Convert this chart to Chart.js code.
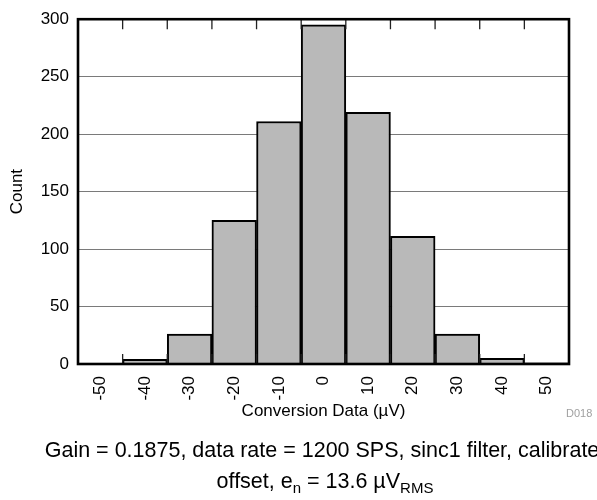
<!DOCTYPE html>
<html>
<head>
<meta charset="utf-8">
<script src="https://cdn.jsdelivr.net/npm/chart.js@4.4.1/dist/chart.umd.min.js"></script>
<style>
  html, body { margin: 0; padding: 0; background: #ffffff; }
  canvas { display: block; }
</style>
</head>
<body>
<canvas id="c" width="597" height="500"></canvas>
<script>
// ---- data ----
const categories = ['-50', '-40', '-30', '-20', '-10', '0', '10', '20', '30', '40', '50'];
const counts = [0, 4, 26, 125, 211, 295, 219, 111, 26, 5, 1];
const yMin = 0;
const yMax = 300;
const yStep = 50;
const xTitle = 'Conversion Data (\u00B5V)';
const yTitle = 'Count';
const figId = 'D018';
const captionLine1 = [{ t: 'Gain = 0.1875, data rate = 1200 SPS, sinc1 filter, calibrated' }];
const captionLine2 = [
  { t: 'offset, e' }, { t: 'n', sub: true }, { t: ' = 13.6 \u00B5V' }, { t: 'RMS', sub: true }
];

const FONT = '"Liberation Sans", Arial, Helvetica, sans-serif';

const decorPlugin = {
  id: 'decor',
  afterDatasetsDraw(chart) {
    const { ctx, chartArea: a, scales } = chart;
    const xs = scales.x;
    ctx.save();
    // inward tick marks at bin boundaries
    ctx.strokeStyle = '#222';
    ctx.lineWidth = 1.3;
    for (let i = 0; i < categories.length - 1; i++) {
      const px = (xs.getPixelForValue(i) + xs.getPixelForValue(i + 1)) / 2;
      ctx.beginPath();
      ctx.moveTo(px, a.top);
      ctx.lineTo(px, a.top + 10);
      ctx.moveTo(px, a.bottom);
      ctx.lineTo(px, a.bottom - 10);
      ctx.stroke();
    }
    // frame
    ctx.strokeStyle = '#000';
    ctx.lineWidth = 2.6;
    ctx.strokeRect(a.left, a.top, a.right - a.left, a.bottom - a.top);
    ctx.restore();
  },
  afterDraw(chart) {
    const { ctx } = chart;
    ctx.save();
    // figure id
    ctx.fillStyle = '#a0a0a0';
    ctx.font = '11px ' + FONT;
    ctx.textAlign = 'left';
    ctx.textBaseline = 'middle';
    ctx.fillText(figId, 566, 414);
    // captions
    const drawLine = (parts, cx, baseY) => {
      const big = '21.5px ' + FONT, small = '15px ' + FONT;
      let w = 0;
      parts.forEach(p => { ctx.font = p.sub ? small : big; w += ctx.measureText(p.t).width; });
      let x = cx - w / 2;
      ctx.fillStyle = '#000';
      ctx.textAlign = 'left';
      ctx.textBaseline = 'alphabetic';
      parts.forEach(p => {
        ctx.font = p.sub ? small : big;
        ctx.fillText(p.t, x, baseY + (p.sub ? 5 : 0));
        x += ctx.measureText(p.t).width;
      });
    };
    drawLine(captionLine1, 328, 457);
    drawLine(captionLine2, 325, 488);
    ctx.restore();
  }
};

new Chart(document.getElementById('c'), {
  type: 'bar',
  data: {
    labels: categories,
    datasets: [{
      data: counts,
      backgroundColor: '#b9b9b9',
      borderColor: '#000000',
      borderWidth: 2,
      barPercentage: 1.0,
      categoryPercentage: 1.0
    }]
  },
  options: {
    responsive: false,
    animation: false,
    devicePixelRatio: 1,
    layout: { padding: { left: 0, right: 28, top: 15, bottom: 0 } },
    plugins: {
      legend: { display: false },
      tooltip: { enabled: false }
    },
    scales: {
      x: {
        type: 'category',
        offset: true,
        grid: { display: false, drawTicks: false },
        border: { display: false },
        ticks: {
          color: '#000',
          font: { family: FONT, size: 17 },
          minRotation: 90,
          maxRotation: 90,
          padding: 12,
          autoSkip: false
        },
        title: {
          display: true,
          text: xTitle,
          color: '#000',
          font: { family: FONT, size: 17 },
          padding: { top: 0, bottom: 78 }
        },
        afterFit(scale) { scale.height = 136; }
      },
      y: {
        min: yMin,
        max: yMax,
        grid: {
          drawTicks: false,
          lineWidth: 1,
          color: (c) => (c.tick && (c.tick.value === yMin || c.tick.value === yMax)) ? 'rgba(0,0,0,0)' : '#7a7a7a'
        },
        border: { display: false },
        ticks: {
          stepSize: yStep,
          color: '#000',
          font: { family: FONT, size: 17 },
          padding: 9
        },
        title: {
          display: true,
          text: yTitle,
          color: '#000',
          font: { family: FONT, size: 17 },
          padding: { top: 7, bottom: 0 }
        },
        afterFit(scale) { scale.width = 78; }
      }
    }
  },
  plugins: [decorPlugin]
});
</script>
</body>
</html>
